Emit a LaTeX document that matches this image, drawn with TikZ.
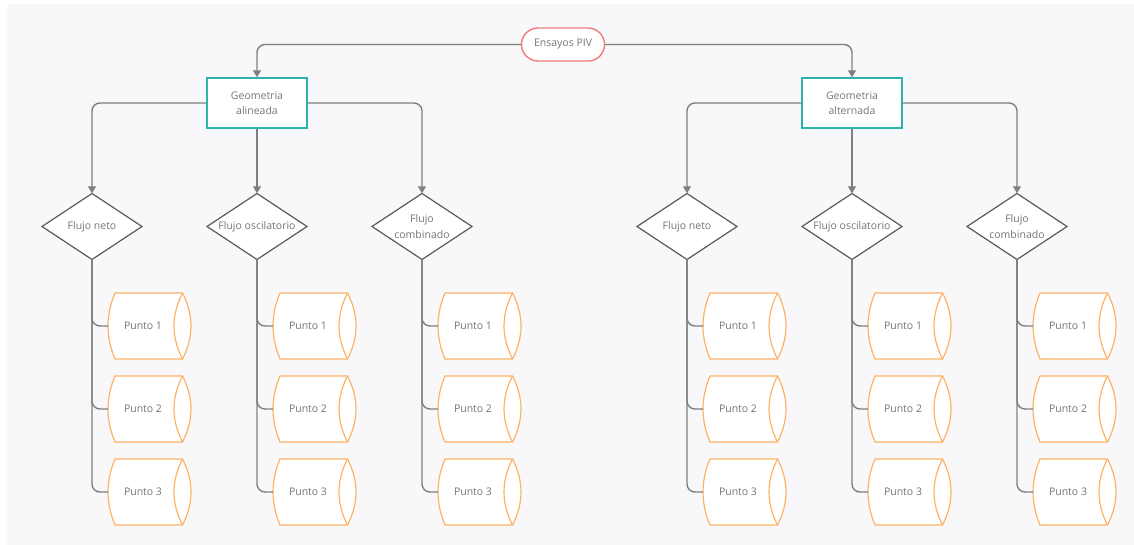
\documentclass[tikz,border=0pt]{standalone}
\usepackage{fontspec}
\setmainfont{Open Sans}
\usetikzlibrary{arrows.meta}

\definecolor{bg}{HTML}{F8F8FA}
\definecolor{txt}{HTML}{767676}
\definecolor{wire}{HTML}{7F7F7F}
\definecolor{tealline}{HTML}{2EB2B0}
\definecolor{salmon}{HTML}{F07B7B}
\definecolor{amber}{HTML}{FDB266}
\definecolor{edge}{HTML}{5A5A5A}

\tikzset{
  lbl/.style={text=txt, align=center, inner sep=0pt},
  root/.style={lbl, draw=salmon, line width=1.4pt, fill=white, rounded corners=16.5pt,
               minimum width=83pt, minimum height=33pt},
  geobox/.style={lbl, draw=tealline, line width=1.4pt, fill=white,
                 minimum width=100pt, minimum height=50pt},
  dtext/.style={lbl, minimum width=100pt, minimum height=66pt},
  dia/.style={draw=edge, line width=1.2pt, fill=white, line join=miter},
  cyl/.style={draw=amber, line width=1.2pt, fill=white},
  conn/.style={draw=wire, line width=1.4pt, rounded corners=8pt},
  arr/.style={conn, -{Triangle[width=8pt,length=7pt]}},
}

% decision diamond: name, x, y, label
\newcommand\flujo[4]{%
  \path[dia] (#2,#3-33) -- (#2+50,#3) -- (#2,#3+33) -- (#2-50,#3) -- cycle;
  \node[dtext] (#1) at (#2,#3) {#4};
}

% storage drum: name, x of its decision, y, label
\newcommand\punto[4]{%
  \path[cyl] (#2+23,#3-33) -- (#2+90.5,#3-33)
     .. controls (#2+101.8,#3-11) and (#2+101.8,#3+11) .. (#2+90.5,#3+33)
     -- (#2+23,#3+33)
     .. controls (#2+13.7,#3+11) and (#2+13.7,#3-11) .. cycle;
  \draw[cyl, fill=none] (#2+90.5,#3-33)
     .. controls (#2+79.2,#3-11) and (#2+79.2,#3+11) .. (#2+90.5,#3+33);
  \node[lbl] (#1) at (#2+51,#3) {#4};
  \coordinate (#1-in) at (#2+16,#3);
}

\begin{document}
\begin{tikzpicture}[x=1pt, y=-1pt, font=\fontsize{10.5}{15.5}\selectfont]
  \useasboundingbox (0,0) rectangle (1134,545);
  \fill[bg] (7,4) rectangle (1134,545);

  % root and the two geometries
  \node[root] (piv) at (563,44.5) {Ensayos PIV};
  \node[geobox] (ga) at (257,103) {Geometria\\alineada};
  \node[geobox] (gb) at (852,103) {Geometria\\alternada};
  \draw[arr] (piv.west) -| (ga.north);
  \draw[arr] (piv.east) -| (gb.north);

  % flow types under each geometry
  \foreach \g/\xa/\xb/\xc in {a/92/257/422, b/687/852/1017} {
    \flujo{\g1}{\xa}{226.5}{Flujo neto}
    \flujo{\g2}{\xb}{226.5}{Flujo oscilatorio}
    \flujo{\g3}{\xc}{226.5}{Flujo\\combinado}
    \draw[arr] (g\g.west) -| (\g1.north);
    \draw[arr] (g\g.south) -- (\g2.north);
    \draw[arr] (g\g.east) -| (\g3.north);
  }

  % measurement points under each flow type
  \foreach \d/\x in {a1/92, a2/257, a3/422, b1/687, b2/852, b3/1017} {
    \foreach \k/\y in {1/326, 2/409, 3/492} {
      \punto{\d-p\k}{\x}{\y}{Punto \k}
      \draw[conn] (\d.south) |- (\d-p\k-in);
    }
  }
\end{tikzpicture}
\end{document}
